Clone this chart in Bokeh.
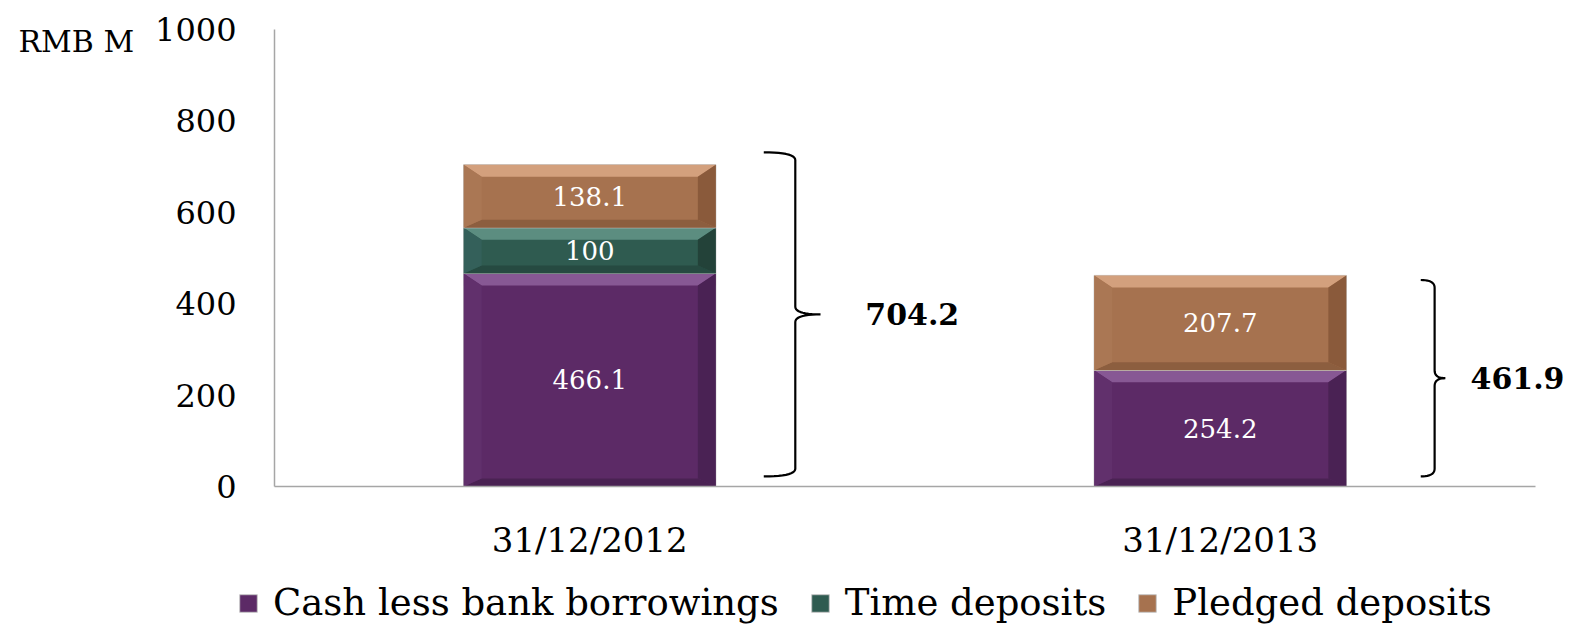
import numpy as np
from bokeh.plotting import figure
from bokeh.models import Range1d, FixedTicker, Legend, LegendItem, Label
from bokeh.embed import file_html
from bokeh.resources import INLINE

# ---- data ----
categories = ["31/12/2012", "31/12/2013"]
cash = [466.1, 254.2]
time_deposits = [100.0, 0.0]
pledged = [138.1, 207.7]
series_names = ["Cash less bank borrowings", "Time deposits", "Pledged deposits"]
totals = [704.2, 461.9]
y_ticks = [0, 200, 400, 600, 800, 1000]
unit_label = "RMB M"

FONT = "DejaVu Serif"

# colours per series: main, top, bottom, left, right
palettes = [
    dict(main="#5C2A66", top="#875894", bottom="#4A2253", left="#61306C", right="#4A2254"),
    dict(main="#2F5B50", top="#5C8D80", bottom="#264A41", left="#34605A", right="#234239"),
    dict(main="#A6724F", top="#D3A07D", bottom="#8C5E3F", left="#AA7754", right="#8A5A3B"),
]

# canvas geometry (pixels) -> data ranges so that the plot frame fills the canvas
W, H = 1573, 627
AX_LEFT, AX_RIGHT, AX_TOP, AX_BOTTOM = 274, 1535, 29, 486
n_cat = len(categories)
px_per_x = (AX_RIGHT - AX_LEFT) / n_cat
px_per_y = (AX_BOTTOM - AX_TOP) / 1000.0
x_start = -AX_LEFT / px_per_x
x_end = (W - AX_LEFT) / px_per_x
y_start = -(H - AX_BOTTOM) / px_per_y
y_end = 1000 + AX_TOP / px_per_y

p = figure(width=W, height=H, x_range=Range1d(x_start, x_end), y_range=Range1d(y_start, y_end),
           output_backend="svg", toolbar_location=None, title=None, min_border=0)
p.outline_line_color = None
p.xgrid.grid_line_color = None
p.ygrid.grid_line_color = None
p.background_fill_color = "white"
p.border_fill_color = "white"

xc = [0.5 + i for i in range(n_cat)]
bar_w = 0.4
series = [cash, time_deposits, pledged]

bx = 18 / px_per_x       # bevel width in x units
by_top = 12 / px_per_y   # bevel height (top)
by_bot = 8 / px_per_y    # bevel height (bottom)

legend_items = []
bottoms = [0.0] * n_cat
for si, vals in enumerate(series):
    pal = palettes[si]
    lefts = [c - bar_w / 2 for c in xc]
    rights = [c + bar_w / 2 for c in xc]
    bots = list(bottoms)
    tops = [b + v for b, v in zip(bots, vals)]
    r = p.quad(left=lefts, right=rights, bottom=bots, top=tops,
               fill_color=pal["main"], line_color="#C8C8C8", line_width=1)
    legend_items.append(LegendItem(label=series_names[si], renderers=[r]))
    xs, ys, cols = [], [], []
    for x0, x1, b, t, v in zip(lefts, rights, bots, tops, vals):
        if v <= 0:
            continue
        xs += [[x0, x1, x1 - bx, x0 + bx], [x0, x1, x1 - bx, x0 + bx],
               [x0, x0 + bx, x0 + bx, x0], [x1, x1 - bx, x1 - bx, x1]]
        ys += [[t, t, t - by_top, t - by_top], [b, b, b + by_bot, b + by_bot],
               [b, b + by_bot, t - by_top, t], [b, b + by_bot, t - by_top, t]]
        cols += [pal["top"], pal["bottom"], pal["left"], pal["right"]]
    p.patches(xs=xs, ys=ys, fill_color=cols, line_color=None)
    # value labels
    lx = [c for c, v in zip(xc, vals) if v > 0]
    ly = [b + v / 2 for b, v in zip(bots, vals) if v > 0]
    lt = [("%g" % v) for v in vals if v > 0]
    p.text(x=lx, y=ly, text=lt, text_color="white", text_align="center",
           text_baseline="middle", text_font={"value": FONT}, text_font_size="26px")
    bottoms = tops

# braces
brace_geom = [(0.776, 0.826, 0.866), (1.818, 1.840, 1.857)]
label_x = [0.937, 1.897]
lo_pad = 22.0
hi_pad = [27.0, -10.0]
rr = 17.0


def qbez(p0, c, p1, n=12):
    t = np.linspace(0, 1, n)
    x = (1 - t) ** 2 * p0[0] + 2 * (1 - t) * t * c[0] + t ** 2 * p1[0]
    y = (1 - t) ** 2 * p0[1] + 2 * (1 - t) * t * c[1] + t ** 2 * p1[1]
    return list(x), list(y)


for i, tot in enumerate(totals):
    x0, x1, x2 = brace_geom[i]
    hi = tot + hi_pad[i]
    lo = lo_pad
    mid = (hi + lo) / 2
    X, Y = [], []
    a = qbez((x0, hi), (x1, hi), (x1, hi - rr))
    b = qbez((x1, mid + rr), (x1, mid), (x2, mid))
    c = qbez((x2, mid), (x1, mid), (x1, mid - rr))
    d = qbez((x1, lo + rr), (x1, lo), (x0, lo))
    for sx, sy in [a, b, c, d]:
        X += sx
        Y += sy
    p.line(X, Y, line_color="black", line_width=2.2)
    p.text(x=[label_x[i]], y=[mid], text=["%g" % tot], text_align="left",
           text_baseline="middle", text_font={"value": FONT}, text_font_size="30px",
           text_font_style="bold", text_color="black")

# axes (fixed inside the frame at x=0 / y=0)
p.yaxis.fixed_location = 0
p.yaxis.bounds = (0, 1000)
p.yaxis.ticker = FixedTicker(ticks=y_ticks)
p.yaxis.major_label_text_font = FONT
p.yaxis.major_label_text_font_size = "32px"
p.yaxis.major_label_text_color = "black"
p.yaxis.major_tick_line_color = None
p.yaxis.minor_tick_line_color = None
p.yaxis.axis_line_color = "#A6A6A6"
p.yaxis.axis_line_width = 1.5
p.yaxis.major_label_standoff = 32

p.xaxis.fixed_location = 0
p.xaxis.bounds = (0, n_cat)
p.xaxis.ticker = FixedTicker(ticks=xc)
p.xaxis.major_label_overrides = {x: c for x, c in zip(xc, categories)}
p.xaxis.major_label_text_font = FONT
p.xaxis.major_label_text_font_size = "34px"
p.xaxis.major_label_text_color = "black"
p.xaxis.major_tick_line_color = None
p.xaxis.minor_tick_line_color = None
p.xaxis.axis_line_color = "#A6A6A6"
p.xaxis.axis_line_width = 1.5
p.xaxis.major_label_standoff = 27

p.add_layout(Label(x=-256 / px_per_x, y=1000 - 12 / px_per_y, text=unit_label, text_font=FONT,
                   text_font_size="30px", text_baseline="middle", text_align="left",
                   text_color="black"))

legend = Legend(items=legend_items, orientation="horizontal", location=(237, 3),
                border_line_alpha=0, background_fill_alpha=0,
                label_text_font=FONT, label_text_font_size="37px", label_text_color="black",
                glyph_width=22, glyph_height=22, spacing=30, label_standoff=14,
                padding=0, margin=0)
p.add_layout(legend, "center")

open("out.html", "w").write(file_html(p, INLINE))
